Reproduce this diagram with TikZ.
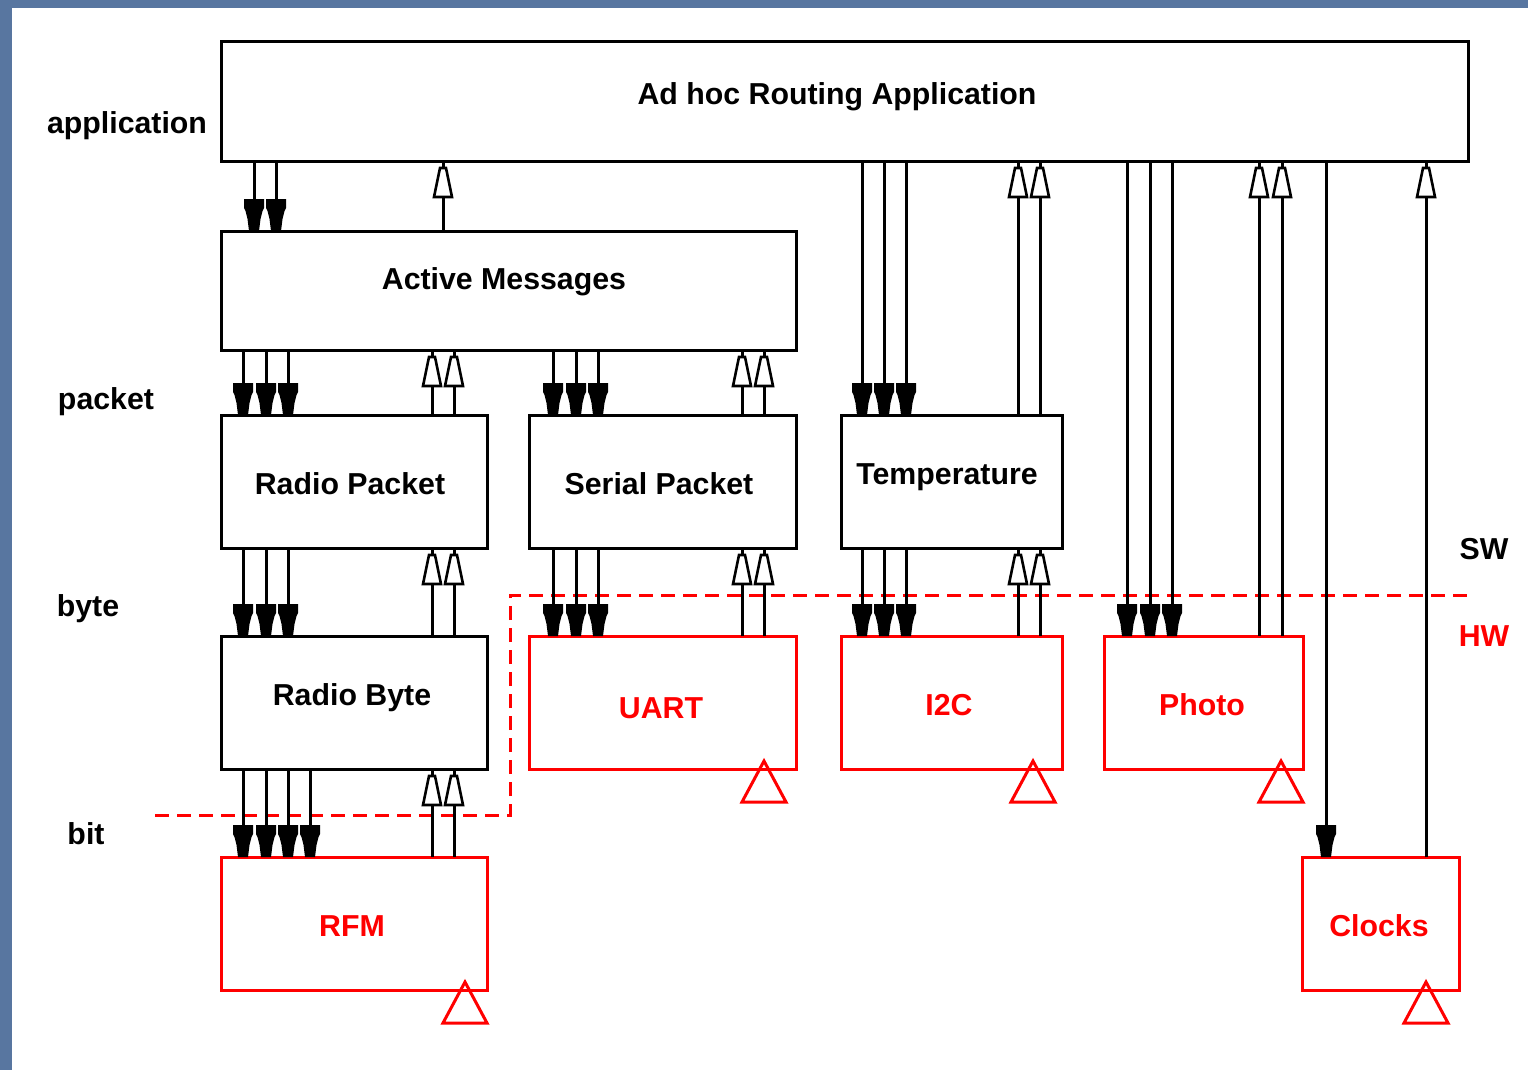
\documentclass[tikz,border=0pt]{standalone}
\usepackage{fontspec}
\setmainfont{Liberation Sans}
\usetikzlibrary{arrows.meta}
\pgfdeclarearrow{
  name = FBolt,
  setup code = {
    \pgfarrowssettipend{0pt}
    \pgfarrowssetlineend{-16pt}
    \pgfarrowssetvisualbackend{-32pt}
    \pgfarrowssetbackend{-32pt}
    \pgfarrowshullpoint{0pt}{5pt}
    \pgfarrowshullpoint{0pt}{-5pt}
    \pgfarrowshullpoint{-32pt}{10pt}
    \pgfarrowshullpoint{-32pt}{-10pt}
  },
  drawing code = {
    \pgfpathmoveto{\pgfqpoint{0pt}{5pt}}
    \pgfpathlineto{\pgfqpoint{-12pt}{6.5pt}}
    \pgfpathlineto{\pgfqpoint{-20pt}{8.5pt}}
    \pgfpathlineto{\pgfqpoint{-23pt}{10pt}}
    \pgfpathlineto{\pgfqpoint{-32pt}{10pt}}
    \pgfpathlineto{\pgfqpoint{-32pt}{-10pt}}
    \pgfpathlineto{\pgfqpoint{-23pt}{-10pt}}
    \pgfpathlineto{\pgfqpoint{-20pt}{-8.5pt}}
    \pgfpathlineto{\pgfqpoint{-12pt}{-6.5pt}}
    \pgfpathlineto{\pgfqpoint{0pt}{-5pt}}
    \pgfpathclose
    \pgfusepathqfill
  }
}
\pgfdeclarearrow{
  name = OBolt,
  setup code = {
    \pgfarrowssettipend{0pt}
    \pgfarrowssetlineend{0pt}
    \pgfarrowssetvisualbackend{-37pt}
    \pgfarrowssetbackend{-37pt}
    \pgfarrowshullpoint{0pt}{3pt}
    \pgfarrowshullpoint{0pt}{-3pt}
    \pgfarrowshullpoint{-37pt}{10pt}
    \pgfarrowshullpoint{-37pt}{-10pt}
  },
  drawing code = {
    \pgfsetlinewidth{2.6pt}
    \pgfsetmiterjoin
    \pgfpathmoveto{\pgfqpoint{-7pt}{3pt}}
    \pgfpathlineto{\pgfqpoint{-36pt}{9pt}}
    \pgfpathlineto{\pgfqpoint{-36pt}{-9pt}}
    \pgfpathlineto{\pgfqpoint{-7pt}{-3pt}}
    \pgfpathclose
    \pgfsetfillcolor{white}
    \pgfusepathqfillstroke
  }
}
\definecolor{bluebg}{RGB}{88,118,160}
\tikzset{
  box/.style={draw=black, line width=3pt, anchor=north west, inner sep=0pt, outer sep=0pt},
  hwbox/.style={box, draw=red},
  lbl/.style={font=\fontsize{30.3}{36}\selectfont\bfseries, inner sep=0pt, text height=21.7pt, text depth=0pt, anchor=center},
  hwlbl/.style={lbl, text=red},
  dnarrow/.style={line width=3pt, -FBolt},
  uparrow/.style={line width=3pt, -OBolt},
  hwline/.style={red, line width=3pt, dash pattern=on 14pt off 8pt},
  hwtri/.style={red, line width=3pt, line join=miter},
}
\newcommand\dnconn[3]{\draw[dnarrow] (#1.south -| x#3) -- (#2.north -| x#3);}
\newcommand\upconn[3]{\draw[uparrow] (#1.north -| x#3) -- (#2.south -| x#3);}
\newcommand\hwtriangle[2]{\draw[hwtri] ([shift={(#2,-8)}]#1.south east) -- ([shift={(#2-22,33)}]#1.south east) -- ([shift={(#2+22,33)}]#1.south east) -- cycle;}
\begin{document}
\begin{tikzpicture}[x=1pt,y=-1pt]
\useasboundingbox (0,0) rectangle (1528,1070);
\fill[white] (0,0) rectangle (1528,1070);
\fill[bluebg] (0,0) rectangle (12,1070);
\fill[bluebg] (0,0) rectangle (1528,8);

\foreach \x in {243,254,266,276,288,310,432,443,454,553,576,598,742,764,862,884,906,1018,1040,1127,1150,1172,1259,1282,1326,1426}
  \coordinate (x\x) at (\x,0);

% boxes
\node[box, minimum width=1247pt, minimum height=119pt] (ah) at (221,42) {};
\node[box, minimum width=575pt, minimum height=119pt] (am) at (221,231) {};
\node[box, minimum width=266pt, minimum height=133pt] (rp) at (221,415) {};
\node[box, minimum width=267pt, minimum height=133pt] (sp) at (529,415) {};
\node[box, minimum width=221pt, minimum height=133pt] (tp) at (841,415) {};
\node[box, minimum width=266pt, minimum height=133pt] (rb) at (221,636) {};
\node[hwbox, minimum width=267pt, minimum height=133pt] (ua) at (529,636) {};
\node[hwbox, minimum width=221pt, minimum height=133pt] (ic) at (841,636) {};
\node[hwbox, minimum width=199pt, minimum height=133pt] (ph) at (1104,636) {};
\node[hwbox, minimum width=266pt, minimum height=133pt] (rf) at (221,857) {};
\node[hwbox, minimum width=157pt, minimum height=133pt] (cl) at (1302,857) {};

% texts
\node[lbl] (tah) at (837,94) {Ad hoc Routing Application};
\node[lbl] (tam) at (504,279) {Active Messages};
\node[lbl] (trp) at (350,484) {Radio Packet};
\node[lbl] (tsp) at (659,484) {Serial Packet};
\node[lbl] (ttp) at (947,474) {Temperature};
\node[lbl] (trb) at (352,695) {Radio Byte};
\node[hwlbl] (tua) at (661,708) {UART};
\node[hwlbl] (tic) at (949,705) {I2C};
\node[hwlbl] (tph) at (1202,705) {Photo};
\node[hwlbl] (trf) at (352,926) {RFM};
\node[hwlbl] (tcl) at (1379,926) {Clocks};

\node[lbl] (lapp) at (127,123) {application};
\node[lbl] (lpkt) at (106,399) {packet};
\node[lbl] (lbyte) at (88,606) {byte};
\node[lbl] (lbit) at (86,834) {bit};
\node[lbl] (lsw) at (1484,549) {SW};
\node[hwlbl] (lhw) at (1484,636) {HW};

% SW/HW boundary
\draw[hwline] (155,815) -- (510,815) -- (510,595) -- (1468,595);

% connectors
\dnconn{ah}{am}{254}\dnconn{ah}{am}{276}
\upconn{am}{ah}{443}
\dnconn{am}{rp}{243}\dnconn{am}{rp}{266}\dnconn{am}{rp}{288}
\upconn{rp}{am}{432}\upconn{rp}{am}{454}
\dnconn{am}{sp}{553}\dnconn{am}{sp}{576}\dnconn{am}{sp}{598}
\upconn{sp}{am}{742}\upconn{sp}{am}{764}
\dnconn{ah}{tp}{862}\dnconn{ah}{tp}{884}\dnconn{ah}{tp}{906}
\upconn{tp}{ah}{1018}\upconn{tp}{ah}{1040}
\dnconn{rp}{rb}{243}\dnconn{rp}{rb}{266}\dnconn{rp}{rb}{288}
\upconn{rb}{rp}{432}\upconn{rb}{rp}{454}
\dnconn{sp}{ua}{553}\dnconn{sp}{ua}{576}\dnconn{sp}{ua}{598}
\upconn{ua}{sp}{742}\upconn{ua}{sp}{764}
\dnconn{tp}{ic}{862}\dnconn{tp}{ic}{884}\dnconn{tp}{ic}{906}
\upconn{ic}{tp}{1018}\upconn{ic}{tp}{1040}
\dnconn{ah}{ph}{1127}\dnconn{ah}{ph}{1150}\dnconn{ah}{ph}{1172}
\upconn{ph}{ah}{1259}\upconn{ph}{ah}{1282}
\dnconn{ah}{cl}{1326}
\upconn{cl}{ah}{1426}
\dnconn{rb}{rf}{243}\dnconn{rb}{rf}{266}\dnconn{rb}{rf}{288}\dnconn{rb}{rf}{310}
\upconn{rf}{rb}{432}\upconn{rf}{rb}{454}

% hardware triangles
\hwtriangle{ua}{-32}
\hwtriangle{ic}{-29}
\hwtriangle{ph}{-22}
\hwtriangle{rf}{-22}
\hwtriangle{cl}{-33}
\end{tikzpicture}
\end{document}
